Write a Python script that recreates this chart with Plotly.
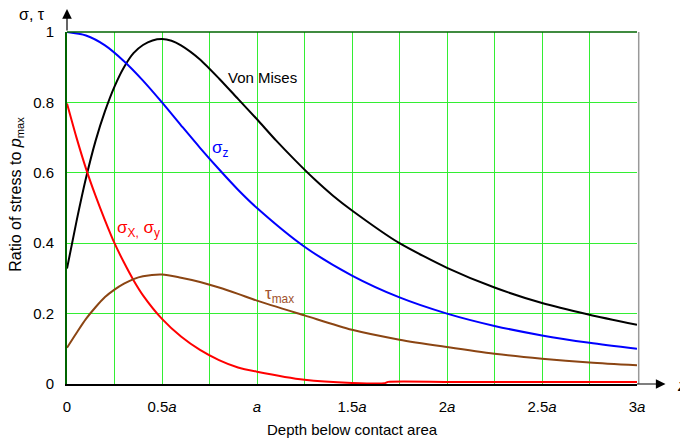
import plotly.graph_objects as go

# Depth below contact area, in units of a
z_vm = [0, 0.05, 0.1, 0.15, 0.2, 0.25, 0.3, 0.35, 0.4, 0.45, 0.5, 0.55, 0.6, 0.7, 0.8, 0.9, 1.0,
        1.1, 1.2, 1.3, 1.4, 1.5, 1.75, 2.0, 2.25, 2.5, 2.75, 3.0]
von_mises = [0.328, 0.462, 0.585, 0.69, 0.775, 0.845, 0.9, 0.94, 0.963, 0.976, 0.98, 0.975, 0.962,
             0.922, 0.868, 0.81, 0.752, 0.692, 0.636, 0.583, 0.535, 0.493, 0.40, 0.33, 0.274,
             0.23, 0.197, 0.168]

z_sz = [0, 0.1, 0.2, 0.3, 0.4, 0.5, 0.6, 0.7, 0.8, 0.9, 1.0, 1.25, 1.5, 1.75, 2.0, 2.25, 2.5, 2.75, 3.0]
sigma_z = [1.0, 0.99, 0.962, 0.917, 0.862, 0.8, 0.735, 0.671, 0.61, 0.552, 0.5, 0.39, 0.308,
           0.246, 0.2, 0.165, 0.138, 0.117, 0.1]

z_sx = [0, 0.05, 0.1, 0.15, 0.2, 0.25, 0.3, 0.35, 0.4, 0.5, 0.6, 0.7, 0.8, 0.9, 1.0, 1.25, 1.5,
        1.67, 1.69, 2.0, 2.5, 3.0]
sigma_xy = [0.797, 0.70, 0.612, 0.535, 0.465, 0.40, 0.345, 0.295, 0.252, 0.185, 0.135, 0.097,
            0.068, 0.047, 0.035, 0.012, 0.003, 0.002, 0.006, 0.006, 0.006, 0.006]

z_tau = [0, 0.05, 0.1, 0.15, 0.2, 0.25, 0.3, 0.35, 0.4, 0.5, 0.6, 0.7, 0.8, 0.9, 1.0, 1.25, 1.5,
         1.75, 2.0, 2.25, 2.5, 2.75, 3.0]
tau_max = [0.103, 0.145, 0.185, 0.218, 0.247, 0.268, 0.285, 0.298, 0.306, 0.311, 0.302, 0.29,
           0.274, 0.256, 0.237, 0.195, 0.154, 0.126, 0.105, 0.086, 0.072, 0.061, 0.053]

x_tickvals = [0, 0.25, 0.5, 0.75, 1.0, 1.25, 1.5, 1.75, 2.0, 2.25, 2.5, 2.75, 3.0]
x_ticktext = ["0", "", "0.5<i>a</i>", "", "<i>a</i>", "", "1.5<i>a</i>", "", "2<i>a</i>", "",
              "2.5<i>a</i>", "", "3<i>a</i>"]
y_tickvals = [0, 0.2, 0.4, 0.6, 0.8, 1.0]
y_ticktext = ["0", "0.2", "0.4", "0.6", "0.8", "1"]

FONT = "Liberation Sans, Arial, sans-serif"
BROWN = "#8B4513"
GRID = "#33EE33"

fig = go.Figure()
fig.add_trace(go.Scatter(x=z_vm, y=von_mises, mode="lines",
                         line=dict(color="black", width=2, shape="spline", smoothing=0.6)))
fig.add_trace(go.Scatter(x=z_sz, y=sigma_z, mode="lines",
                         line=dict(color="#0000FF", width=2, shape="spline", smoothing=0.8)))
fig.add_trace(go.Scatter(x=z_sx, y=sigma_xy, mode="lines",
                         line=dict(color="#FF0000", width=2, shape="spline", smoothing=0.6)))
fig.add_trace(go.Scatter(x=z_tau, y=tau_max, mode="lines",
                         line=dict(color=BROWN, width=2, shape="spline", smoothing=0.8)))

fig.update_layout(
    width=680, height=440,
    margin=dict(l=67, r=43, t=32, b=56),
    paper_bgcolor="white", plot_bgcolor="white",
    showlegend=False,
    font=dict(family=FONT, size=15, color="black"),
    xaxis=dict(range=[0, 3], tickvals=x_tickvals, ticktext=x_ticktext,
               showgrid=True, gridcolor=GRID, gridwidth=1, zeroline=False,
               showline=True, linecolor="black", linewidth=1.5, ticks="",
               ticklabelstandoff=8, tickfont=dict(size=15, family=FONT)),
    yaxis=dict(range=[0, 1], tickvals=y_tickvals, ticktext=y_ticktext,
               showgrid=True, gridcolor=GRID, gridwidth=1, zeroline=False,
               showline=True, linecolor="#006400", linewidth=2, ticks="",
               ticklabelstandoff=8, tickfont=dict(size=15, family=FONT)),
    shapes=[
        dict(type="line", xref="paper", yref="paper", x0=0, x1=1, y0=1, y1=1,
             line=dict(color="#006400", width=1.5)),
        dict(type="line", xref="paper", yref="paper", x0=1.003, x1=1.003, y0=0, y1=1,
             line=dict(color="#999999", width=1.5)),
    ],
    annotations=[
        # axis arrows
        dict(xref="paper", yref="paper", x=0, y=1.065, ax=0, ay=23, showarrow=True,
             arrowhead=2, arrowsize=1.6, arrowwidth=1.2, arrowcolor="black", text=""),
        dict(xref="paper", yref="paper", x=1.05, y=0, ax=-30, ay=0, showarrow=True,
             arrowhead=2, arrowsize=1.6, arrowwidth=1.2, arrowcolor="black", text=""),
        dict(xref="paper", yref="paper", x=1.066, y=-0.005, text="<i>z</i>", showarrow=False,
             font=dict(size=16, family=FONT), xanchor="left", yanchor="middle"),
        dict(xref="paper", yref="paper", x=-0.061, y=1.05, text="σ, τ", showarrow=False,
             font=dict(size=16, family=FONT), xanchor="center", yanchor="middle"),
        # axis titles
        dict(xref="paper", yref="paper", x=-0.088, y=0.54, textangle=-90,
             text="Ratio of stress to <i>p</i><sub>max</sub>", showarrow=False,
             font=dict(size=16, family=FONT), xanchor="center", yanchor="middle"),
        dict(xref="paper", yref="paper", x=0.5, y=-0.13,
             text="Depth below contact area", showarrow=False,
             font=dict(size=15, family=FONT), xanchor="center", yanchor="middle"),
        # curve labels
        dict(x=1.028, y=0.87, text="Von Mises", showarrow=False,
             font=dict(size=15, family=FONT, color="black"), xanchor="center", yanchor="middle"),
        dict(x=0.81, y=0.668, text="σ<sub>z</sub>", showarrow=False,
             font=dict(size=17, family=FONT, color="#0000FF"), xanchor="center", yanchor="middle"),
        dict(x=0.375, y=0.44, text="σ<sub>X,</sub> σ<sub>y</sub>", showarrow=False,
             font=dict(size=17, family=FONT, color="#FF0000"), xanchor="center", yanchor="middle"),
        dict(x=1.12, y=0.252, text="τ<sub>max</sub>", showarrow=False,
             font=dict(size=17, family=FONT, color="#A0522D"), xanchor="center", yanchor="middle"),
    ],
)

fig.write_html("out.html", config={"displayModeBar": False},
               post_script="document.body.style.margin='0';document.body.style.padding='0';")
